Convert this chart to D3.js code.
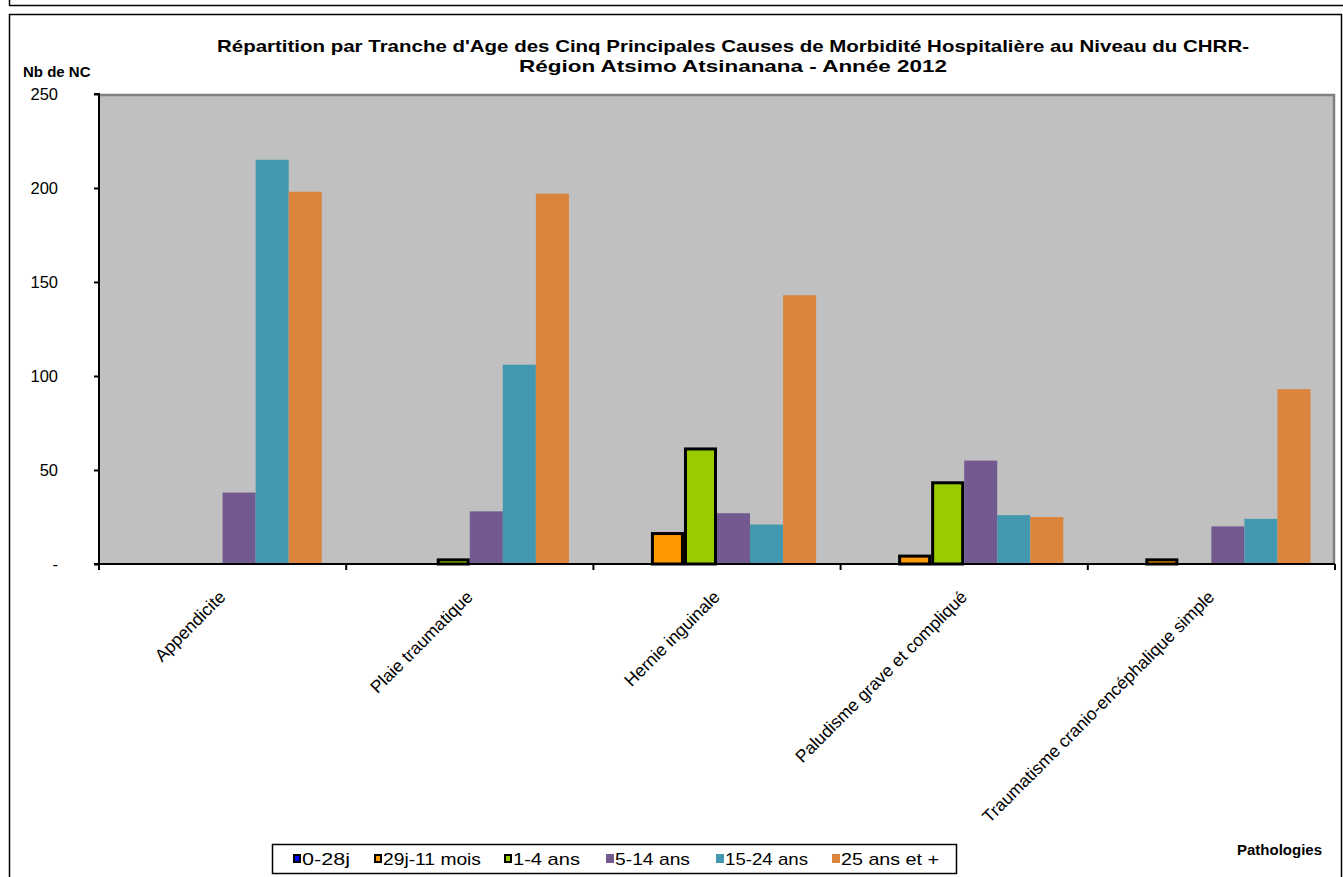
<!DOCTYPE html>
<html><head><meta charset="utf-8">
<script src="https://cdn.jsdelivr.net/npm/d3@7"></script>
<style>body{margin:0;background:#fff}svg{display:block;font-family:"Liberation Sans",Arial,sans-serif}</style>
</head><body><svg id="c" width="1343" height="877"></svg>
<script>
const categories = ["Appendicite","Plaie traumatique","Hernie inguinale","Paludisme grave et compliqué","Traumatisme cranio-encéphalique simple"];
const seriesNames = ["0-28j","29j-11 mois","1-4 ans","5-14 ans","15-24 ans","25 ans et +"];
const s0_28j   = [0, 0, 0, 0, 0];
const s29j_11m = [0, 0, 17, 5, 3];
const s1_4     = [0, 3, 62, 44, 0];
const s5_14    = [38, 28, 27, 55, 20];
const s15_24   = [215, 106, 21, 26, 24];
const s25plus  = [198, 197, 143, 25, 93];
const seriesValues = [s0_28j, s29j_11m, s1_4, s5_14, s15_24, s25plus];
const yTicks = [0, 50, 100, 150, 200, 250];
const colors = ["#0000FF","#FF9900","#99CC00","#725990","#4198AF","#DB843D"];
const outlined = [true, true, true, false, false, false];

const svg = d3.select("#c");
// frames
svg.append("line").attr("x1",9).attr("x2",1343).attr("y1",5.5).attr("y2",5.5).attr("stroke","#000").attr("stroke-width",1.5);
svg.append("line").attr("x1",9.5).attr("x2",9.5).attr("y1",0).attr("y2",5.5).attr("stroke","#000").attr("stroke-width",1.5);
svg.append("rect").attr("x",9.5).attr("y",14.5).attr("width",1332).attr("height",870).attr("fill","none").attr("stroke","#000").attr("stroke-width",1.5);

const L=99, R=1335, T=94, B=564;
const x0 = d3.scaleBand().domain(categories).range([L,R]).paddingInner(0.198).paddingOuter(0.099);
const xOuter = d3.scaleBand().domain(categories).range([L,R]);
const x1 = d3.scaleBand().domain(seriesNames).range([0,x0.bandwidth()]);
const y = d3.scaleLinear().domain([0,250]).range([B,T]);

svg.append("rect").attr("x",L).attr("y",T).attr("width",R-L).attr("height",B-T).attr("fill","#C0C0C0");
svg.append("path").attr("d",`M${L},${T+1}H${R-1}V${B}`).attr("fill","none").attr("stroke","#808080").attr("stroke-width",2.5);

seriesNames.forEach((s,si)=>{
  const g = svg.append("g");
  categories.forEach((c,ci)=>{
    const v = seriesValues[si][ci];
    if(v<=0) return;
    const bx = x0(c)+x1(s), bw = x1.bandwidth();
    if(outlined[si]){
      g.append("rect").attr("x",bx+1.5).attr("y",y(v)+1.5).attr("width",bw-3).attr("height",y(0)-y(v)-1.5)
       .attr("fill",colors[si]).attr("stroke","#000").attr("stroke-width",3);
    } else {
      g.append("rect").attr("x",bx).attr("y",y(v)).attr("width",bw).attr("height",y(0)-y(v)).attr("fill",colors[si]);
    }
  });
});

// axes
const yAxis = d3.axisLeft(y).tickValues(yTicks).tickSize(5).tickFormat(d=>d===0?"-":d);
const gy = svg.append("g").attr("transform",`translate(${L},0)`).call(yAxis);
gy.select(".domain").attr("stroke","#000").attr("stroke-width",2).attr("d",`M-5,${T}H0V${B}H-5`);
gy.selectAll(".tick line").attr("stroke","#000").attr("stroke-width",2);
gy.selectAll(".tick text").attr("x",-41).attr("font-size",16.5).attr("fill","#000").attr("font-family","Liberation Sans, Arial, sans-serif");

const bounds = categories.map(c=>xOuter(c)).concat([R]);
svg.append("line").attr("x1",L).attr("x2",R).attr("y1",B).attr("y2",B).attr("stroke","#000").attr("stroke-width",2);
svg.selectAll("line.xt").data(bounds).enter().append("line").attr("class","xt")
  .attr("x1",d=>d).attr("x2",d=>d).attr("y1",B).attr("y2",B+6).attr("stroke","#000").attr("stroke-width",2);

svg.selectAll("text.xl").data(categories).enter().append("text").attr("class","xl")
  .attr("transform",d=>`translate(${xOuter(d)+xOuter.bandwidth()/2+4},${B+34}) rotate(-45)`)
  .attr("text-anchor","end").attr("font-size",17.5).text(d=>d);

// titles
svg.append("text").attr("x",733).attr("y",52).attr("text-anchor","middle").attr("font-size",17).attr("font-weight","bold")
  .attr("textLength",1032).attr("lengthAdjust","spacingAndGlyphs")
  .text("Répartition par Tranche d'Age des Cinq Principales Causes de Morbidité Hospitalière au Niveau du CHRR-");
svg.append("text").attr("x",733).attr("y",72).attr("text-anchor","middle").attr("font-size",17).attr("font-weight","bold")
  .attr("textLength",428).attr("lengthAdjust","spacingAndGlyphs")
  .text("Région Atsimo Atsinanana - Année 2012");
svg.append("text").attr("x",23).attr("y",77).attr("font-size",15).attr("font-weight","bold").text("Nb de NC");
svg.append("text").attr("x",1237).attr("y",855).attr("font-size",15).attr("font-weight","bold").text("Pathologies");

// legend
const leg = svg.append("g");
leg.append("rect").attr("x",272.5).attr("y",844.5).attr("width",684).attr("height",29).attr("fill","#fff").attr("stroke","#000").attr("stroke-width",1.5);
const legX = [293, 374, 504, 606, 716, 832];
const legW = [48, 98, 67, 75, 83, 98];
seriesNames.forEach((s,i)=>{
  if(outlined[i]){
    leg.append("rect").attr("x",legX[i]+1).attr("y",855).attr("width",6).attr("height",7).attr("fill",colors[i]).attr("stroke","#000").attr("stroke-width",2);
  } else {
    leg.append("rect").attr("x",legX[i]).attr("y",854).attr("width",8).attr("height",9).attr("fill",colors[i]);
  }
  leg.append("text").attr("x",legX[i]+9).attr("y",865).attr("font-size",17)
    .attr("textLength",legW[i]).attr("lengthAdjust","spacingAndGlyphs").text(s);
});
</script></body></html>
